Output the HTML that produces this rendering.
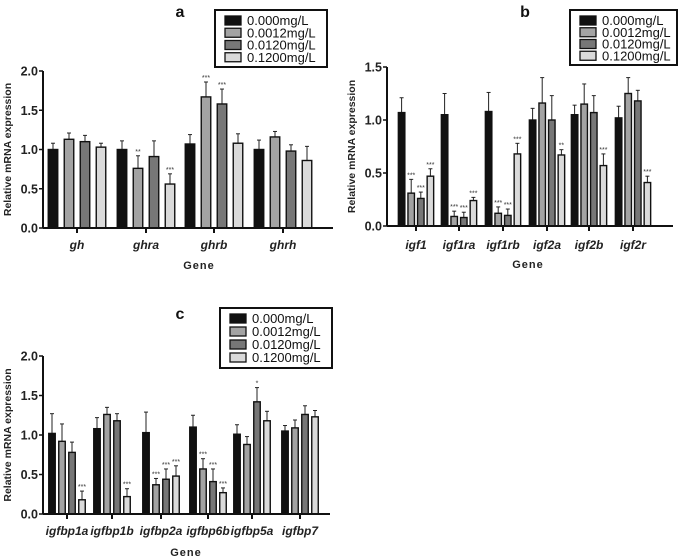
<!DOCTYPE html><html><head><meta charset="utf-8"><style>body{margin:0;background:#fff}svg{display:block}text{font-family:"Liberation Sans",Arial,sans-serif}</style></head><body>
<svg id="s" width="678" height="558" xmlns="http://www.w3.org/2000/svg"></svg>
<script>
const S=document.getElementById('s');let h='';
const cols=['#111','#a3a3a3','#777','#dadada'];
function panel(p){
 const {ax,y0,yTop,vmax,step,axEnd,centers,pitch,bw,genes,data,stars,glY,geneY,geneX,title,tx,ty,lg}=p;
 const sc=(y0-yTop)/vmax;
 centers.forEach((c,gi)=>{for(let k=0;k<4;k++){const [v,e]=data[gi][k];const x=c+(k-1.5)*pitch-bw/2;const yv=y0-v*sc;const ye=yv-e*sc;
  h+=`<line x1="${x+bw/2}" y1="${yv}" x2="${x+bw/2}" y2="${ye}" stroke="#222" stroke-width="1"/><line x1="${x+bw/2-2}" y1="${ye}" x2="${x+bw/2+2}" y2="${ye}" stroke="#222" stroke-width="1"/>`;
  h+=`<rect x="${x}" y="${yv}" width="${bw}" height="${y0-yv}" fill="${cols[k]}" stroke="#111" stroke-width="1.4"/>`;
  const st=stars[gi][k];if(st)h+=`<text x="${x+bw/2}" y="${ye-2}" font-size="7" text-anchor="middle" fill="#333">${st}</text>`;}
  h+=`<line x1="${c}" y1="${y0}" x2="${c}" y2="${y0+5}" stroke="#111" stroke-width="2"/>`;
  h+=`<text x="${c}" y="${glY}" font-size="12" font-weight="bold" font-style="italic" text-anchor="middle" fill="#222">${genes[gi]}</text>`;});
 h+=`<line x1="${ax}" y1="${yTop}" x2="${ax}" y2="${y0}" stroke="#111" stroke-width="2"/><line x1="${ax}" y1="${y0}" x2="${axEnd}" y2="${y0}" stroke="#111" stroke-width="2"/>`;
 for(let v=0;v<=vmax+1e-9;v+=step){const y=y0-v*sc;h+=`<line x1="${ax-4}" y1="${y}" x2="${ax}" y2="${y}" stroke="#111" stroke-width="1.5"/><text x="${ax-5}" y="${y+4.5}" font-size="12.5" font-weight="bold" text-anchor="end" fill="#222">${v.toFixed(1)}</text>`;}
 const my=(yTop+y0)/2;h+=`<text transform="translate(${ax-32},${my}) rotate(-90)" font-size="10.5" font-weight="bold" text-anchor="middle" fill="#222">Relative mRNA expression</text>`;
 h+=`<text x="${geneX}" y="${geneY}" font-size="11" font-weight="bold" text-anchor="middle" fill="#222" letter-spacing="1">Gene</text>`;
 h+=`<text x="${tx}" y="${ty}" font-size="16" font-weight="bold" text-anchor="middle" fill="#111">${title}</text>`;
 const [lx,ly,lw,lh]=lg;h+=`<rect x="${lx}" y="${ly}" width="${lw}" height="${lh}" fill="#fff" stroke="#111" stroke-width="2"/>`;
 const gap=(lh-8)/4;
 ['0.000mg/L','0.0012mg/L','0.0120mg/L','0.1200mg/L'].forEach((t,i)=>{const yy=ly+4+i*gap;h+=`<rect x="${lx+10}" y="${yy+2}" width="16" height="9" fill="${cols[i]}" stroke="#111" stroke-width="1.3"/><text x="${lx+32}" y="${yy+11}" font-size="13" fill="#111">${t}</text>`;});
}
panel({ax:43,y0:228,yTop:71,vmax:2,step:0.5,axEnd:333,centers:[77,146,214,283],pitch:16,bw:9.5,genes:['gh','ghra','ghrb','ghrh'],
data:[[[1,.08],[1.13,.08],[1.1,.08],[1.03,.05]],[[1,.11],[.76,.16],[.91,.2],[.56,.13]],[[1.07,.12],[1.67,.19],[1.58,.19],[1.08,.12]],[[1,.12],[1.16,.07],[.98,.08],[.86,.18]]],
stars:[['','','',''],['','**','','***'],['','***','***',''],['','','','']],glY:249,geneY:269,geneX:199,title:'a',tx:180,ty:17,lg:[215,10,112,57]});
panel({ax:387,y0:226,yTop:67,vmax:1.5,step:0.5,axEnd:673,centers:[416,459,503,547,589,633],pitch:9.6,bw:6.5,genes:['igf1','igf1ra','igf1rb','igf2a','igf2b','igf2r'],
data:[[[1.07,.14],[.31,.13],[.26,.06],[.47,.07]],[[1.05,.2],[.09,.05],[.08,.05],[.24,.03]],[[1.08,.18],[.12,.06],[.1,.06],[.68,.1]],[[1,.11],[1.16,.24],[1,.23],[.67,.05]],[[1.05,.09],[1.15,.19],[1.07,.16],[.57,.11]],[[1.02,.11],[1.25,.15],[1.18,.1],[.41,.06]]],
stars:[['','***','***','***'],['','***','***','***'],['','***','***','***'],['','','','**'],['','','','***'],['','','','***']],glY:249,geneY:268,geneX:528,title:'b',tx:525,ty:17,lg:[570,10,107,55]});
panel({ax:43,y0:514,yTop:356,vmax:2,step:0.5,axEnd:330,centers:[67,112,161,208,252,300],pitch:10,bw:6.5,genes:['igfbp1a','igfbp1b','igfbp2a','igfbp6b','igfbp5a','igfbp7'],
data:[[[1.02,.25],[.92,.22],[.78,.13],[.18,.11]],[[1.08,.14],[1.26,.09],[1.18,.09],[.22,.1]],[[1.03,.26],[.37,.08],[.44,.13],[.48,.13]],[[1.1,.15],[.57,.13],[.41,.16],[.27,.06]],[[1.01,.12],[.88,.1],[1.42,.18],[1.18,.12]],[[1.05,.07],[1.09,.1],[1.26,.11],[1.23,.08]]],
stars:[['','','','***'],['','','','***'],['','***','***','***'],['','***','***','***'],['','','*',''],['','','','']],glY:535,geneY:556,geneX:186,title:'c',tx:180,ty:319,lg:[220,308,112,60]});
S.innerHTML=h;
</script></body></html>
